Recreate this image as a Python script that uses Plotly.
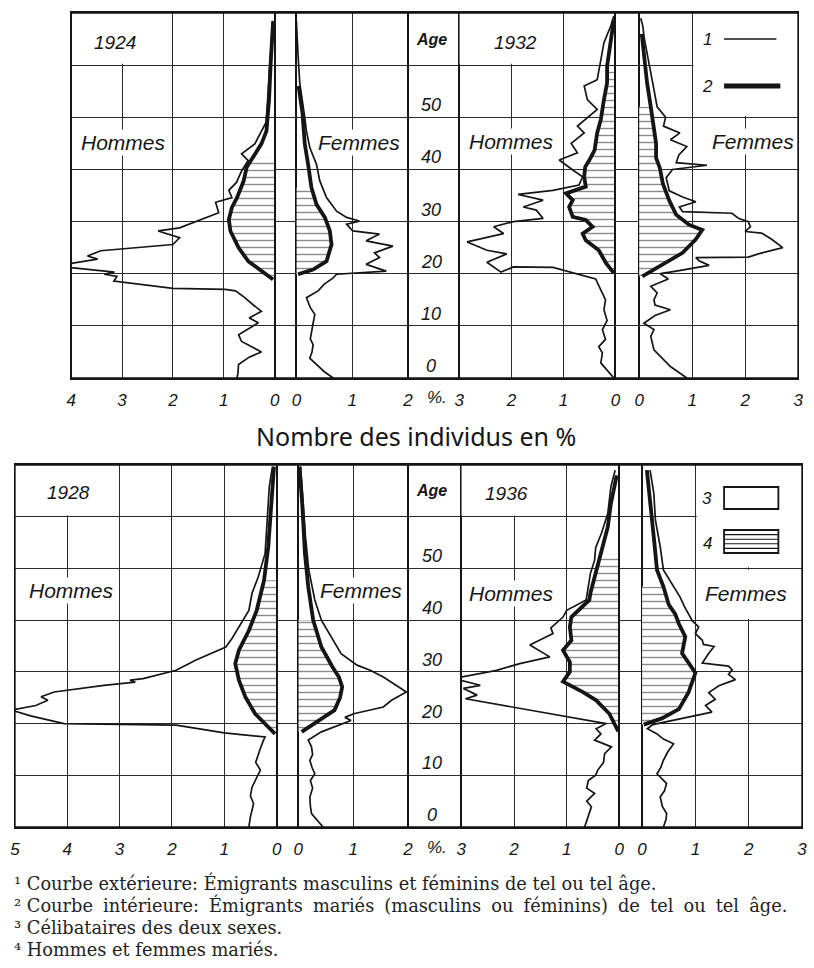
import plotly.graph_objects as go

W, H = 814, 968

# ---------------- data: % of individuals by age ----------------
# 1924
AGE_H1924_OUT = [0, 1, 2.6, 4, 5, 6, 7, 8.3, 9.5, 10.6, 11.5, 12.8, 14, 15.5, 16.7, 17, 17.2, 18.6, 19.5, 19.9, 20.3, 21, 21.5, 22, 22.8, 23.4, 24.4, 25.6, 26.9, 28.2, 28.8, 31.7, 33.7, 34.6, 36, 37.5, 39.7, 41.7, 43, 44.9, 47.4, 49, 53, 58, 63, 68.5]
PCT_H1924_OUT = [0.74, 0.72, 0.71, 0.5, 0.26, 0.45, 0.65, 0.71, 0.5, 0.32, 0.5, 0.26, 0.42, 0.6, 0.77, 0.97, 2.0, 3.16, 3.1, 3.35, 3.15, 3.9, 4.33, 4.0, 3.48, 3.68, 3.42, 2.0, 1.87, 2.29, 1.87, 1.10, 1.16, 0.84, 0.9, 0.75, 0.65, 0.52, 0.65, 0.39, 0.26, 0.17, 0.14, 0.11, 0.08, 0.04]
AGE_H1924_IN = [18.9, 20.5, 22.4, 25, 28.2, 30.4, 32.7, 34.6, 37.8, 40.4, 42.3, 44.9, 47.4, 53.4, 60, 66, 68.4]
PCT_H1924_IN = [0.03, 0.26, 0.52, 0.71, 0.87, 0.90, 0.84, 0.74, 0.61, 0.55, 0.42, 0.26, 0.16, 0.11, 0.08, 0.05, 0.03]
AGE_F1924_OUT = [0, 1.2, 2.6, 3.8, 5, 6.4, 7.5, 9, 10.5, 12.2, 13.5, 15.4, 16.7, 18, 19.2, 19.9, 20.5, 21.8, 23.1, 24, 25.3, 26.3, 27.6, 28.2, 29.5, 30.1, 30.8, 32, 34.6, 37.8, 41, 44.2, 47.4, 50, 53.4, 56.6, 62, 68.5]
PCT_F1924_OUT = [0.66, 0.5, 0.36, 0.24, 0.28, 0.30, 0.25, 0.27, 0.3, 0.33, 0.25, 0.18, 0.39, 0.5, 0.66, 0.72, 1.61, 1.25, 1.49, 1.4, 1.73, 1.25, 1.49, 1.01, 0.90, 1.13, 0.90, 0.72, 0.54, 0.42, 0.36, 0.24, 0.18, 0.15, 0.11, 0.06, 0.03, 0.0]
AGE_F1924_IN = [19.9, 20.8, 22.4, 25.6, 28.2, 30.8, 33.3, 36.5, 41, 44.9, 50.8, 56]
PCT_F1924_IN = [0.03, 0.30, 0.54, 0.63, 0.60, 0.51, 0.36, 0.27, 0.21, 0.15, 0.11, 0.04]

# 1932
AGE_H1932_OUT = [0, 1.5, 2.9, 4.8, 6, 7.4, 9.3, 11, 13.1, 15, 17, 19, 21.2, 21.3, 20.3, 22.2, 23.8, 24.5, 26.1, 27.7, 29, 30, 30.6, 32.2, 32.8, 34.1, 35.2, 36, 37, 38.6, 39.9, 41.8, 43.2, 45, 47, 48.3, 51.5, 53.4, 56, 57.2, 61, 64.3, 67.5, 69.4]
PCT_H1932_OUT = [0.03, 0.15, 0.28, 0.25, 0.32, 0.19, 0.25, 0.16, 0.22, 0.19, 0.28, 0.38, 1.2, 1.96, 2.2, 2.47, 2.09, 2.47, 2.85, 2.15, 2.34, 1.96, 1.39, 1.52, 1.77, 1.39, 1.87, 1.2, 0.70, 0.63, 0.82, 1.08, 0.73, 0.85, 0.60, 0.73, 0.35, 0.54, 0.60, 0.35, 0.28, 0.22, 0.09, 0.03]
AGE_H1932_IN = [20.1, 22, 24.5, 26.4, 27.7, 29, 30.3, 30.9, 32.8, 34.1, 35.4, 36.7, 38.6, 40.5, 41.8, 43.7, 47, 49.6, 53.4, 56.6, 59.8, 65, 68.7]
PCT_H1932_IN = [0.03, 0.18, 0.32, 0.57, 0.63, 0.44, 0.57, 0.82, 0.89, 0.82, 0.95, 0.57, 0.60, 0.58, 0.5, 0.40, 0.35, 0.28, 0.22, 0.16, 0.16, 0.09, 0.03]
AGE_F1932_OUT = [0, 2.2, 5.4, 8, 9.3, 10.5, 12, 13.1, 14, 15, 16.3, 17.6, 19, 20, 20.5, 21.6, 22.5, 23.1, 23.2, 23.8, 25, 26.6, 27.8, 28.1, 29, 30, 30.6, 31.6, 31.9, 32.8, 33.8, 34.7, 35.9, 38.4, 40, 40.8, 41.3, 42.8, 44.4, 45.7, 47, 48.3, 50, 52, 55.3, 58.5, 62.3, 65, 67.5, 69]
PCT_F1932_OUT = [0.90, 0.59, 0.28, 0.22, 0.28, 0.09, 0.3, 0.59, 0.3, 0.28, 0.34, 0.22, 0.55, 0.4, 0.7, 1.32, 1.13, 1.07, 2.06, 2.25, 2.71, 2.5, 2.31, 2.0, 2.1, 2.06, 1.88, 1.75, 0.82, 0.76, 1.07, 0.82, 0.57, 0.51, 0.63, 1.28, 0.7, 0.75, 0.90, 0.59, 0.77, 0.46, 0.5, 0.34, 0.28, 0.22, 0.15, 0.10, 0.07, 0.03]
AGE_F1932_IN = [19.5, 21.9, 24, 26.6, 28.4, 29.4, 31.3, 34, 37.2, 40.3, 42.2, 45, 48.3, 52, 56.6, 63, 66]
PCT_F1932_IN = [0.06, 0.45, 0.82, 1.07, 1.19, 0.94, 0.70, 0.57, 0.45, 0.39, 0.32, 0.32, 0.28, 0.22, 0.15, 0.09, 0.05]

# 1928
AGE_H1928_OUT = [0, 2, 4.5, 6, 7.7, 9.5, 11, 12.5, 14.2, 15.5, 16.8, 17.4, 18.2, 19.7, 20, 21.5, 22.6, 23.5, 24.5, 25.2, 26.1, 27.4, 28, 28.4, 28.7, 30.3, 32.3, 34.8, 36.5, 38.7, 41.9, 45.2, 48.4, 52.9, 59.4, 65.8, 69.7]
PCT_H1928_OUT = [0.53, 0.5, 0.44, 0.5, 0.47, 0.38, 0.31, 0.4, 0.35, 0.3, 0.25, 0.22, 1.0, 1.92, 4.06, 4.7, 5.06, 4.6, 4.37, 4.5, 4.25, 3.3, 2.7, 2.8, 2.55, 1.92, 1.54, 0.97, 0.85, 0.72, 0.53, 0.47, 0.35, 0.22, 0.18, 0.14, 0.08]
AGE_H1928_IN = [18, 20, 21.9, 25.2, 28.4, 31.6, 34.2, 38, 41.9, 47.7, 54.2, 62.6, 69.7]
PCT_H1928_IN = [0.03, 0.22, 0.41, 0.60, 0.72, 0.79, 0.72, 0.53, 0.38, 0.24, 0.16, 0.10, 0.05]
AGE_F1928_OUT = [0, 1.2, 2.6, 4, 5.8, 7.5, 9, 10.3, 11.5, 12.9, 14, 15.5, 16.8, 18.4, 19.5, 20.6, 21.2, 21.9, 23.2, 24.5, 26.1, 27.7, 29, 30.3, 31.3, 33.5, 36.8, 40, 43.9, 49.7, 56.1, 65.8, 69.7]
PCT_F1928_OUT = [0.45, 0.35, 0.24, 0.22, 0.21, 0.26, 0.22, 0.30, 0.25, 0.21, 0.26, 0.24, 0.18, 0.42, 0.7, 0.96, 0.85, 1.01, 1.55, 1.7, 1.97, 1.73, 1.55, 1.31, 1.07, 0.78, 0.60, 0.42, 0.30, 0.19, 0.13, 0.07, 0.04]
AGE_F1928_IN = [18.4, 20.6, 22.6, 25, 27.1, 29, 31, 34.8, 40, 46.5, 52.9, 62.6, 69.7]
PCT_F1928_IN = [0.06, 0.36, 0.66, 0.76, 0.80, 0.74, 0.62, 0.42, 0.27, 0.18, 0.12, 0.07, 0.02]

# 1936
AGE_H1936_OUT = [0, 2, 3.9, 5, 6.5, 7.5, 9, 10, 11, 12.5, 14.2, 15.5, 16.8, 18, 19, 20, 24.8, 25.5, 26.8, 27.4, 28.7, 30.3, 31.6, 32.9, 35.2, 37.4, 38.5, 40.6, 41.9, 43.9, 46.5, 49, 51.6, 54, 56.8, 60.6, 65.8, 69]
PCT_H1936_OUT = [0.66, 0.6, 0.53, 0.62, 0.47, 0.62, 0.59, 0.45, 0.41, 0.3, 0.28, 0.15, 0.47, 0.35, 0.44, 0.25, 2.92, 2.7, 2.96, 2.64, 3.14, 2.33, 1.89, 1.32, 1.70, 1.26, 1.3, 1.07, 1.0, 0.63, 0.59, 0.55, 0.47, 0.45, 0.34, 0.22, 0.16, 0.08]
AGE_H1936_IN = [18.5, 21.9, 24.5, 26.1, 28.1, 30, 31.9, 34.2, 36.1, 38.7, 40.6, 42.6, 43.9, 45.2, 48.4, 52.9, 58, 62.6, 68]
PCT_H1936_IN = [0.02, 0.19, 0.44, 0.69, 1.07, 0.94, 0.94, 1.07, 0.91, 0.94, 0.91, 0.69, 0.57, 0.55, 0.47, 0.34, 0.22, 0.16, 0.05]
AGE_F1936_OUT = [0, 1.5, 2.6, 4, 5.8, 7, 8.4, 10.3, 11.5, 12.9, 14.5, 16.1, 17, 18, 19, 19.8, 22.2, 23.5, 24.7, 26, 27.3, 28.5, 29.5, 30.4, 31.1, 31.7, 33.6, 34.9, 35.3, 36.1, 37.4, 38.7, 39.9, 42.5, 44.5, 46.5, 49.7, 54.2, 59.4, 64.5, 69]
PCT_F1936_OUT = [0.40, 0.45, 0.46, 0.38, 0.34, 0.42, 0.46, 0.28, 0.35, 0.40, 0.48, 0.59, 0.4, 0.28, 0.1, 0.2, 1.31, 1.19, 1.37, 1.25, 1.44, 1.75, 1.62, 1.69, 1.62, 1.13, 1.25, 1.35, 1.15, 1.13, 1.0, 1.06, 0.94, 0.8, 0.71, 0.59, 0.40, 0.34, 0.25, 0.22, 0.15]
AGE_F1936_IN = [19.8, 21, 22.8, 26, 29.8, 31.7, 33.6, 36.8, 39.3, 41.2, 43, 46.5, 49.7, 56, 62.6, 69]
PCT_F1936_IN = [0.03, 0.37, 0.69, 0.87, 1.0, 0.87, 0.75, 0.81, 0.69, 0.62, 0.5, 0.40, 0.28, 0.22, 0.15, 0.09]

YEARS = ["1924", "1932", "1928", "1936"]
AGE_TICKS = [0, 10, 20, 30, 40, 50]
FOOTNOTES = [
    ("¹", "Courbe extérieure: Émigrants masculins et féminins de tel ou tel âge."),
    ("²", "Courbe intérieure: Émigrants mariés (masculins ou féminins) de tel ou tel âge."),
    ("³", "Célibataires des deux sexes."),
    ("⁴", "Hommes et femmes mariés."),
]

# ---------------- styling / layout helpers ----------------
INK = "#151515"
GRID = "#2a2a2a"
NUMFONT = "Liberation Sans"


def fx(p):
    return p / W


def fy(p):
    return 1 - p / H


TOP = (13, 378)
BOT = (465, 827)

# (axis number, left px, right px, range, is data column)
COLS_TOP = [(1, 67, 273, [4, 0], True), (2, 273, 295, [0, 1], False),
            (3, 295, 408, [0, 2], True), (4, 408, 460, [0, 1], False),
            (5, 460, 618, [3, 0], True), (6, 618, 642, [0, 1], False),
            (7, 642, 803, [0, 3], True)]
COLS_BOT = [(8, 10, 275, [5, 0], True), (9, 275, 297, [0, 1], False),
            (10, 297, 408, [0, 2], True), (11, 408, 462, [0, 1], False),
            (12, 462, 622, [3, 0], True), (13, 622, 645, [0, 1], False),
            (14, 645, 807, [0, 3], True)]


def ax(n, kind):
    return f"{kind}{'' if n == 1 else n}"


layout = dict(width=W, height=H, autosize=False,
              margin=dict(l=0, r=0, t=0, b=0, pad=0),
              paper_bgcolor="white", plot_bgcolor="white",
              showlegend=False)

fig = go.Figure()

shapes = []
for cols, yname, (ytop, ybot) in ((COLS_TOP, "y", TOP), (COLS_BOT, "y2", BOT)):
    for n, a, b, rng, isdata in cols:
        layout[f"xaxis{'' if n == 1 else n}"] = dict(
            domain=[fx(a), fx(b)], range=rng, anchor=yname,
            showgrid=isdata, gridcolor=GRID, gridwidth=1.1, dtick=1, tick0=0,
            showline=True, mirror=True, linecolor=INK, linewidth=1.6,
            zeroline=False, ticks="", showticklabels=isdata,
            tickfont=dict(family=NUMFONT, size=17, color=INK, style="italic"),
            ticklabelstandoff=6, fixedrange=True)
        if not isdata:
            fig.add_trace(go.Scatter(x=[None], y=[None], xaxis=ax(n, "x"),
                                     yaxis=yname, hoverinfo="skip"))
    layout["yaxis" if yname == "y" else "yaxis2"] = dict(
        domain=[fy(ybot), fy(ytop)], range=[0, 70], anchor=ax(cols[0][0], "x"),
        showgrid=True, gridcolor=GRID, gridwidth=1.1, dtick=10, tick0=0,
        showline=True, mirror="all", linecolor=INK, linewidth=0.6,
        zeroline=False, ticks="", showticklabels=False, fixedrange=True)
    # outer frame of the row
    shapes.append(dict(type="rect", xref="paper", yref="paper",
                       x0=fx(cols[0][1]), x1=fx(cols[-1][2]), y0=fy(ybot), y1=fy(ytop),
                       line=dict(color=INK, width=1.6), fillcolor="rgba(0,0,0,0)",
                       layer="above"))

# panels: (axis, yaxis, outer ages, outer pct, inner ages, inner pct, hatch top age)
HALVES = [
    ("x", "y", AGE_H1924_OUT, PCT_H1924_OUT, AGE_H1924_IN, PCT_H1924_IN, 44),
    ("x3", "y", AGE_F1924_OUT, PCT_F1924_OUT, AGE_F1924_IN, PCT_F1924_IN, 39.5),
    ("x5", "y", AGE_H1932_OUT, PCT_H1932_OUT, AGE_H1932_IN, PCT_H1932_IN, 60),
    ("x7", "y", AGE_F1932_OUT, PCT_F1932_OUT, AGE_F1932_IN, PCT_F1932_IN, 54),
    ("x8", "y2", AGE_H1928_OUT, PCT_H1928_OUT, AGE_H1928_IN, PCT_H1928_IN, 51.5),
    ("x10", "y2", AGE_F1928_OUT, PCT_F1928_OUT, AGE_F1928_IN, PCT_F1928_IN, 43.5),
    ("x12", "y2", AGE_H1936_OUT, PCT_H1936_OUT, AGE_H1936_IN, PCT_H1936_IN, 54),
    ("x14", "y2", AGE_F1936_OUT, PCT_F1936_OUT, AGE_F1936_IN, PCT_F1936_IN, 47),
]

for xa, ya, ao, po, ai, pi, htop in HALVES:
    ha = [a for a in ai if a <= htop]
    hp = [p for a, p in zip(ai, pi) if a <= htop]
    fig.add_trace(go.Scatter(
        x=hp, y=ha, xaxis=xa, yaxis=ya, mode="lines", line=dict(width=0),
        fill="tozerox", fillcolor="white",
        fillpattern=dict(shape="-", size=7, solidity=0.2, fgcolor=INK,
                         bgcolor="white"),
        hoverinfo="skip"))
    fig.add_trace(go.Scatter(x=po, y=ao, xaxis=xa, yaxis=ya, mode="lines",
                             line=dict(color=INK, width=1.7), hoverinfo="skip"))
    fig.add_trace(go.Scatter(x=pi, y=ai, xaxis=xa, yaxis=ya, mode="lines",
                             line=dict(color=INK, width=3.8), hoverinfo="skip"))

# white masks over grid in label cells (between grid and traces)
MASKS = [("x", "y", 4, 2.025, 60.25, 70), ("x5", "y", 3, 1.025, 60.25, 70),
         ("x7", "y", 1.025, 3, 50.25, 70),
         ("x8", "y2", 5, 3.025, 60.25, 70), ("x12", "y2", 3, 1.025, 60.25, 70),
         ("x14", "y2", 1.025, 3, 50.25, 70), ("x14", "y2", 1.025, 3, 40.25, 49.75)]
for xa, ya, x0, x1, y0, y1 in MASKS:
    shapes.append(dict(type="rect", xref=xa, yref=ya, x0=x0, x1=x1, y0=y0, y1=y1,
                       fillcolor="white", line=dict(width=0), layer="between"))

# legend keys (top: curves 1 & 2, bottom: fills 3 & 4)
shapes.append(dict(type="line", xref="paper", yref="paper", x0=fx(728), x1=fx(781),
                   y0=fy(39), y1=fy(39), line=dict(color=INK, width=1.6)))
shapes.append(dict(type="line", xref="paper", yref="paper", x0=fx(728), x1=fx(785),
                   y0=fy(86), y1=fy(86), line=dict(color=INK, width=5)))
shapes.append(dict(type="rect", xref="paper", yref="paper", x0=fx(728), x1=fx(783),
                   y0=fy(509), y1=fy(487), line=dict(color=INK, width=1.8),
                   fillcolor="white"))
shapes.append(dict(type="rect", xref="paper", yref="paper", x0=fx(728), x1=fx(783),
                   y0=fy(553), y1=fy(530), line=dict(color=INK, width=1.8),
                   fillcolor="white"))
for yy in (534.6, 539.2, 543.8, 548.4):
    shapes.append(dict(type="line", xref="paper", yref="paper", x0=fx(728), x1=fx(783),
                       y0=fy(yy), y1=fy(yy), line=dict(color=INK, width=1.1)))
layout["shapes"] = shapes

ann = []


def text(x, y, s, size, style="italic", family=NUMFONT, bg=None,
         xanchor="center", color=INK):
    d = dict(x=fx(x), y=fy(y), xref="paper", yref="paper", text=s,
             showarrow=False, xanchor=xanchor, yanchor="middle",
             font=dict(family=family, size=size, color=color, style=style))
    if bg:
        d.update(bgcolor=bg, borderpad=1)
    ann.append(d)


# year labels
for (x, y), s in zip([(111, 43), (517, 43), (64, 492), (508, 493)], YEARS):
    text(x, y, s, 19)

# Hommes / Femmes labels
for x, y, s in [(120, 143, "Hommes"), (358, 143, "Femmes"),
                (513, 141, "Hommes"), (757, 141, "Femmes"),
                (67, 590, "Hommes"), (360, 590, "Femmes"),
                (513, 593, "Hommes"), (750, 593, "Femmes")]:
    text(x, y, s, 21, bg="white")

# age column labels
for xa, ya in (("x4", "y"), ("x11", "y2")):
    for a in AGE_TICKS:
        ann.append(dict(x=0.45, y=a, xref=xa, yref=ya, text=str(a), showarrow=False,
                        xanchor="center", yanchor="middle", yshift=12,
                        font=dict(family=NUMFONT, size=18, color=INK, style="italic")))
    ann.append(dict(x=0.45, y=65, xref=xa, yref=ya, text="Age", showarrow=False,
                    xanchor="center", yanchor="middle",
                    font=dict(family=NUMFONT, size=16, color=INK, style="italic",
                              weight="bold")))

# "%." between axes
text(437, 397, "%.", 17)
text(437, 847, "%.", 17)

# legend numbers
for y, s in [(40, "1"), (87, "2"), (498, "3"), (543, "4")]:
    text(711, y, s, 17)

# title
text(416, 436, "Nombre des individus en %", 25, style="normal", family="Noto Sans")

# footnotes (second line is justified wider in the original)
for i, ((num, s), y) in enumerate(zip(FOOTNOTES, [883, 905, 927, 949])):
    body = s.replace(" ", " \u2005") if i == 1 else s
    text(7, y, f"{num} {body}", 17.8, style="normal",
         family="DejaVu Serif", xanchor="left", color="#222222")

layout["annotations"] = ann
fig.update_layout(**layout)
fig.write_html("out.html", config={"displayModeBar": False},
               post_script="document.body.style.margin='0';document.body.style.padding='0';")
